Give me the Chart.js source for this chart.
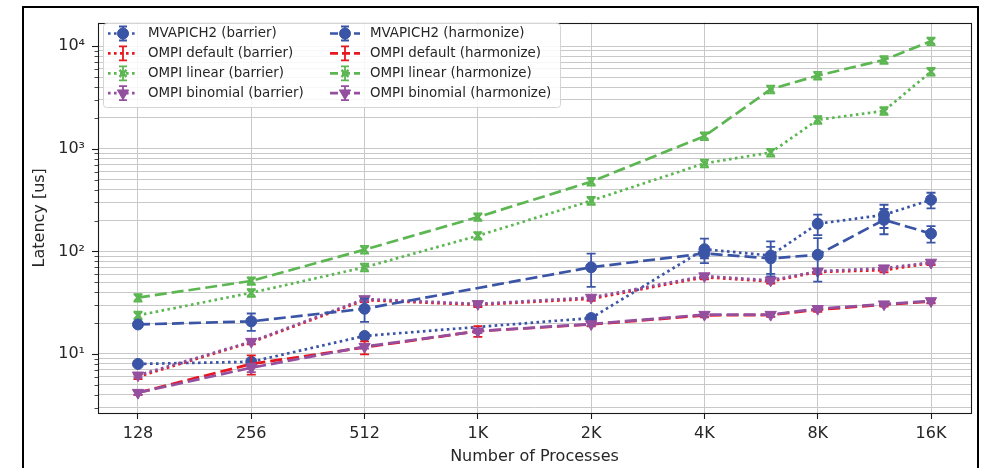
<!DOCTYPE html>
<html>
<head>
<meta charset="utf-8">
<script src="https://cdn.jsdelivr.net/npm/chart.js@4.4.1/dist/chart.umd.min.js"></script>
<style>
  html, body { margin: 0; padding: 0; background: #ffffff; }
  #wrap { width: 982px; height: 468px; position: relative; }
</style>
</head>
<body>
<div id="wrap"><canvas id="chart" width="982" height="468"></canvas></div>
<script>
// Process counts measured, and the x tick positions / labels
const processes = [128, 256, 512, 1024, 2048, 4096, 6144, 8192, 12288, 16384];
const tickProcesses = [128, 256, 512, 1024, 2048, 4096, 8192, 16384];
const tickLabels = ['128', '256', '512', '1K', '2K', '4K', '8K', '16K'];

// Decade ticks on the latency axis
const yDecades = [10, 100, 1000, 10000];
const yDecadeLabels = ['10\u00B9', '10\u00B2', '10\u00B3', '10\u2074'];

// Mean latency [us] and its spread per process count (null = not measured)
const mvapichBarrier      = [8.0, 8.4, 15.0, null, 22.4, 105, 91, 186, 227, 318];
const mvapichBarrierErr   = [0.4, 0.5, 1.0, null, 1.5, 28, 34, 42, 58, 55];
const mvapichHarmonize    = [19.4, 20.8, 27.6, null, 70, 95.5, 85.5, 92.7, 203, 149];
const mvapichHarmonizeErr = [1.0, 4, 7, null, 25, 10, 25, 42, 56, 27];

const defaultBarrier      = [6.0, 13.0, 33.5, 30.2, 34.5, 56, 51, 63, 65.6, 77];
const defaultBarrierErr   = [0.3, 0.6, 1.5, 1.5, 1.5, 2.5, 2.5, 3, 3, 3.5];
const defaultHarmonize    = [4.2, 8.0, 11.6, 16.7, 19.4, 23.8, 24.0, 27.0, 30.2, 32.5];
const defaultHarmonizeErr = [0.2, 1.7, 1.7, 2.0, 0.8, 1.0, 1.0, 1.2, 1.2, 1.3];

const linearBarrier       = [23.8, 39.5, 70, 142, 312, 721, 920, 1918, 2340, 5650];
const linearBarrierErr    = [2.0, 3.4, 6, 12, 27, 62, 80, 165, 200, 480];
const linearHarmonize     = [35.4, 51.5, 104, 216, 478, 1327, 3800, 5175, 7360, 11190];
const linearHarmonizeErr  = [3.0, 4.4, 9, 18, 41, 114, 325, 440, 630, 950];

const binomialBarrier      = [6.2, 13.2, 34.4, 30.8, 35.5, 57.5, 52.2, 64, 68.6, 78];
const binomialBarrierErr   = [0.3, 0.6, 1.4, 1.2, 1.4, 2.3, 2.1, 2.5, 2.7, 3];
const binomialHarmonize    = [4.2, 7.35, 11.8, 16.7, 19.6, 24.2, 24.2, 27.6, 30.6, 32.9];
const binomialHarmonizeErr = [0.2, 0.7, 0.5, 0.7, 0.8, 1.0, 1.0, 1.1, 1.2, 1.3];

// Appearance
const FONT = 'DejaVu Sans';
const TEXT = '#262626';
const GRID = '#c8c8c8';
const BLUE = '#3b55a6', RED = '#e8161e', GREEN = '#5cb651', PURPLE = '#944f9f';
const DOTTED = [2.6, 3.4], DASHED = [12, 5];

const series = [
  { label: 'MVAPICH2 (barrier)',      values: mvapichBarrier,    err: mvapichBarrierErr,    color: BLUE,   dash: DOTTED, marker: 'circle',   radius: 5.5, rot: 0 },
  { label: 'OMPI default (barrier)',  values: defaultBarrier,    err: defaultBarrierErr,    color: RED,    dash: DOTTED, marker: false,      radius: 0,   rot: 0 },
  { label: 'OMPI linear (barrier)',   values: linearBarrier,     err: linearBarrierErr,     color: GREEN,  dash: DOTTED, marker: 'crossRot', radius: 5,   rot: 0 },
  { label: 'OMPI binomial (barrier)', values: binomialBarrier,   err: binomialBarrierErr,   color: PURPLE, dash: DOTTED, marker: 'triangle', radius: 6.5, rot: 180 },
  { label: 'MVAPICH2 (harmonize)',      values: mvapichHarmonize,  err: mvapichHarmonizeErr,  color: BLUE,   dash: DASHED, marker: 'circle',   radius: 5.5, rot: 0 },
  { label: 'OMPI default (harmonize)',  values: defaultHarmonize,  err: defaultHarmonizeErr,  color: RED,    dash: DASHED, marker: false,      radius: 0,   rot: 0 },
  { label: 'OMPI linear (harmonize)',   values: linearHarmonize,   err: linearHarmonizeErr,   color: GREEN,  dash: DASHED, marker: 'crossRot', radius: 5,   rot: 0 },
  { label: 'OMPI binomial (harmonize)', values: binomialHarmonize, err: binomialHarmonizeErr, color: PURPLE, dash: DASHED, marker: 'triangle', radius: 6.5, rot: 180 }
];

const datasets = series.map((s, i) => ({
  label: s.label,
  data: processes
    .map((p, j) => s.values[j] == null ? null : { x: Math.log2(p), y: s.values[j], err: s.err[j] })
    .filter(Boolean),
  borderColor: s.color,
  backgroundColor: s.color,
  borderWidth: 2.7,
  borderDash: s.dash,
  borderCapStyle: 'butt',
  pointStyle: s.marker,
  pointRadius: s.radius,
  pointHoverRadius: s.radius,
  pointRotation: s.rot,
  pointBorderWidth: s.marker === 'crossRot' ? 2.5 : 1,
  pointBackgroundColor: s.color,
  pointBorderColor: s.color,
  fill: false,
  tension: 0,
  order: 20 - i,
  clip: 8
}));

// Vertical error bars with caps, drawn beneath each series' markers
const errorBars = {
  id: 'errorBars',
  beforeDatasetDraw(chart, args) {
    const ds = chart.data.datasets[args.index];
    const { ctx, chartArea, scales: { x, y } } = chart;
    ctx.save();
    ctx.beginPath();
    ctx.rect(chartArea.left, chartArea.top, chartArea.right - chartArea.left, chartArea.bottom - chartArea.top);
    ctx.clip();
    ctx.strokeStyle = ds.borderColor;
    ctx.lineWidth = 1.8;
    ctx.setLineDash([]);
    ds.data.forEach(d => {
      const px = x.getPixelForValue(d.x);
      const top = y.getPixelForValue(d.y + d.err);
      const bot = y.getPixelForValue(d.y - d.err);
      ctx.beginPath();
      ctx.moveTo(px, top); ctx.lineTo(px, bot);
      ctx.moveTo(px - 4.5, top); ctx.lineTo(px + 4.5, top);
      ctx.moveTo(px - 4.5, bot); ctx.lineTo(px + 4.5, bot);
      ctx.stroke();
    });
    ctx.restore();
  }
};

// Axes box, y tick marks and the outer figure frame
const frame = {
  id: 'frame',
  afterDatasetsDraw(chart) {
    const { ctx, chartArea: a, scales: { y } } = chart;
    ctx.save();
    ctx.setLineDash([]);
    ctx.strokeStyle = '#1a1a1a';
    ctx.lineWidth = 1.1;
    ctx.strokeRect(Math.round(a.left) + 0.5, Math.round(a.top) + 0.5,
                   Math.round(a.right - a.left), Math.round(a.bottom - a.top));
    y.ticks.forEach(t => {
      const py = Math.round(y.getPixelForValue(t.value)) + 0.5;
      const len = t.major ? 6 : 3.5;
      ctx.lineWidth = t.major ? 1.1 : 0.8;
      ctx.beginPath();
      ctx.moveTo(a.left - len, py); ctx.lineTo(a.left, py);
      ctx.stroke();
    });
    ctx.strokeStyle = '#000000';
    ctx.lineWidth = 2;
    ctx.strokeRect(23, 7, 955, 470);
    ctx.restore();
  }
};

// Two-column legend in the upper left of the plot
const legendBox = {
  id: 'legendBox',
  afterDraw(chart) {
    const { ctx } = chart;
    const bx = 103.5, by = 23.5, bw = 457, bh = 84;
    ctx.save();
    ctx.setLineDash([]);
    ctx.beginPath();
    ctx.roundRect(bx, by, bw, bh, 3);
    ctx.fillStyle = 'rgba(255,255,255,0.85)';
    ctx.fill();
    ctx.strokeStyle = '#d4d4d4';
    ctx.lineWidth = 1;
    ctx.stroke();
    ctx.font = '13.4px "' + FONT + '"';
    ctx.textBaseline = 'middle';
    const cols = [108, 330];
    series.forEach((s, i) => {
      const col = Math.floor(i / 4), row = i % 4;
      const x0 = cols[col], cy = 33.5 + row * 19.9, cx = x0 + 15;
      ctx.strokeStyle = s.color;
      ctx.fillStyle = s.color;
      ctx.lineWidth = 2.7;
      ctx.setLineDash(s.dash === DASHED ? [8, 4] : s.dash);
      ctx.beginPath();
      ctx.moveTo(x0, cy); ctx.lineTo(x0 + 30, cy);
      ctx.stroke();
      ctx.setLineDash([]);
      ctx.lineWidth = 1.8;
      ctx.beginPath();
      ctx.moveTo(cx, cy - 7); ctx.lineTo(cx, cy + 7);
      ctx.moveTo(cx - 4, cy - 7); ctx.lineTo(cx + 4, cy - 7);
      ctx.moveTo(cx - 4, cy + 7); ctx.lineTo(cx + 4, cy + 7);
      ctx.stroke();
      if (s.marker) {
        ctx.lineWidth = s.marker === 'crossRot' ? 2.5 : 1;
        Chart.helpers.drawPoint(ctx, { pointStyle: s.marker, radius: s.radius, rotation: s.rot, borderWidth: ctx.lineWidth }, cx, cy);
      }
      ctx.fillStyle = TEXT;
      ctx.fillText(s.label, x0 + 40, cy + 0.5);
    });
    ctx.restore();
  }
};

new Chart(document.getElementById('chart'), {
  type: 'line',
  data: { datasets },
  plugins: [errorBars, frame, legendBox],
  options: {
    responsive: false,
    animation: false,
    devicePixelRatio: 1,
    layout: { padding: { left: 0, top: 16, right: 11, bottom: 0 } },
    plugins: { legend: { display: false }, tooltip: { enabled: false } },
    scales: {
      x: {
        type: 'linear',
        min: 6.647,
        max: 14.353,
        bounds: 'data',
        afterBuildTicks: s => { s.ticks = tickProcesses.map(p => ({ value: Math.log2(p) })); },
        afterFit: s => { s.height = 55; },
        ticks: {
          autoSkip: false, maxRotation: 0, padding: 5, color: TEXT,
          font: { family: FONT, size: 16 },
          callback: (v, i) => tickLabels[i]
        },
        grid: { color: GRID, lineWidth: 1, drawTicks: true, tickLength: 6, tickColor: '#1a1a1a', tickWidth: 1.1 },
        border: { display: false },
        title: {
          display: true, text: 'Number of Processes', color: TEXT,
          font: { family: FONT, size: 16 }, padding: { top: 0, bottom: 2 }
        }
      },
      y: {
        type: 'logarithmic',
        min: 2.66,
        max: 16980,
        bounds: 'data',
        afterBuildTicks: s => {
          const t = [];
          for (let e = 0; e <= 4; e++) {
            for (let m = 1; m <= 9; m++) {
              const v = m * Math.pow(10, e);
              if (v >= s.min && v <= s.max) t.push({ value: v, major: m === 1 });
            }
          }
          s.ticks = t;
        },
        afterFit: s => { s.width = 98; },
        ticks: {
          autoSkip: false, padding: 13, color: TEXT,
          font: { family: FONT, size: 16 },
          callback: v => {
            const k = yDecades.findIndex(d => Math.abs(d - v) < 1e-6 * d);
            return k >= 0 ? yDecadeLabels[k] : '';
          }
        },
        grid: { color: GRID, lineWidth: 1, drawTicks: false },
        border: { display: false },
        title: {
          display: true, text: 'Latency [us]', color: TEXT,
          font: { family: FONT, size: 16 }, padding: { top: 30, bottom: 0 }
        }
      }
    }
  }
});
</script>
</body>
</html>
